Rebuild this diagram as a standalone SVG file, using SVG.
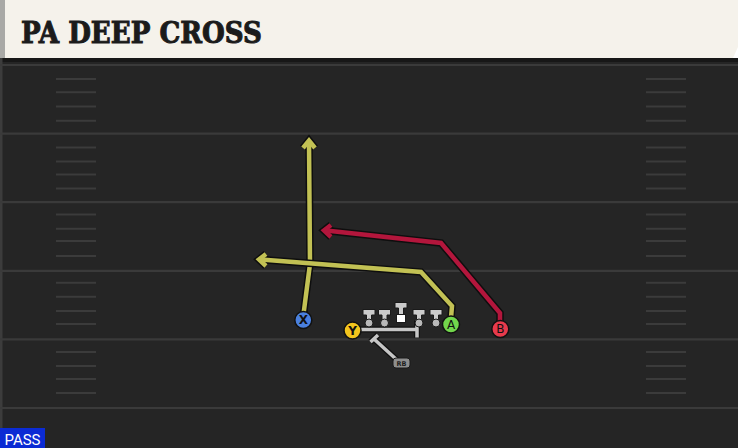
<svg xmlns="http://www.w3.org/2000/svg" width="738" height="448" viewBox="0 0 738 448">
<defs>
<style>
.field{fill:#252525}
.yl{stroke:#3a3a3a;stroke-width:2.2}
.hash{stroke:#3b3b3b;stroke-width:2}
.out{fill:none;stroke:#0e0e0e;stroke-width:7.5;stroke-linejoin:miter;stroke-linecap:butt}
.ry{fill:none;stroke:#c2c154;stroke-width:4.5;stroke-linejoin:miter;stroke-linecap:butt}
.rr{fill:none;stroke:#b3163c;stroke-width:4.5;stroke-linejoin:miter;stroke-linecap:butt}
.bout{fill:none;stroke:#111;stroke-width:6}
.blk{fill:none;stroke:#c6c6c6;stroke-width:3.5}
.pl{stroke:#111;stroke-width:1.5}
.lt{font-family:"DejaVu Sans","Liberation Sans",sans-serif;font-weight:bold;font-size:12px;fill:#111;text-anchor:middle}
.lm{fill:#cbcbcb;stroke:#1a1a1a;stroke-width:1}
.dot{fill:#b9b9b9;stroke:#1a1a1a;stroke-width:1}
</style>
</defs>
<!-- field -->
<rect class="field" x="0" y="58" width="738" height="390"/>
<rect x="0" y="58" width="738" height="4" fill="#171717"/>
<rect x="0" y="58" width="2.5" height="390" fill="#3c3c3c"/>
<g id="yardlines">
<line class="yl" x1="0" y1="65" x2="738" y2="65"/>
<line class="yl" x1="0" y1="133.6" x2="738" y2="133.6"/>
<line class="yl" x1="0" y1="202.2" x2="738" y2="202.2"/>
<line class="yl" x1="0" y1="270.8" x2="738" y2="270.8"/>
<line class="yl" x1="0" y1="339.4" x2="738" y2="339.4"/>
<line class="yl" x1="0" y1="408" x2="738" y2="408"/>
</g>
<g id="hashes">
<path class="hash" d="M56 79H96M56 92.3H96M56 106.5H96M56 120.7H96M56 147.6H96M56 161.6H96M56 174.5H96M56 188.6H96M56 214.5H96M56 228.7H96M56 241H96M56 256H96M56 282.8H96M56 296.8H96M56 311H96M56 324H96M56 352H96M56 366H96M56 379H96M56 393H96"/>
<path class="hash" d="M646 79H686M646 92.3H686M646 106.5H686M646 120.7H686M646 147.6H686M646 161.6H686M646 174.5H686M646 188.6H686M646 214.5H686M646 228.7H686M646 241H686M646 256H686M646 282.8H686M646 296.8H686M646 311H686M646 324H686M646 352H686M646 366H686M646 379H686M646 393H686"/>
</g>
<!-- banner -->
<g id="banner">
<polygon points="0,0 738,0 738,47 733,58 0,58" fill="#f5f2eb"/>
<rect x="0" y="0" width="5" height="58" fill="#a9a9a6"/>
<text x="21" y="43" font-family="'DejaVu Serif','Liberation Serif',serif" font-weight="bold" font-size="29" fill="#1b1b1b" stroke="#1b1b1b" stroke-width="1" textLength="241" lengthAdjust="spacingAndGlyphs">PA DEEP CROSS</text>
</g>
<!-- connectors -->
<g id="connectors">
<g id="route-x">
<polyline class="out" points="303,318 310,264 309,141"/>
<polyline class="out" points="303,148 309,140.5 315,148"/>
<polyline class="ry" points="303,318 310,264 309,141"/>
<polyline class="ry" points="303,148 309,140.5 315,148"/>
</g>
<g id="route-a">
<polyline class="out" points="451,318 452,306 421,272 261,259.5"/>
<polyline class="out" points="266,254 259,259.5 266,266"/>
<polyline class="ry" points="451,318 452,306 421,272 261,259.5"/>
<polyline class="ry" points="266,254 259,259.5 266,266"/>
</g>
<g id="route-b">
<polyline class="out" points="500,322 500,313 441,243 326,230.5"/>
<polyline class="out" points="331,225 324,230.5 331,237"/>
<polyline class="rr" points="500,322 500,313 441,243 326,230.5"/>
<polyline class="rr" points="331,225 324,230.5 331,237"/>
</g>
<g id="block-y">
<path class="bout" d="M358 329.5H417M417 320.5V337.5"/>
<path class="blk" d="M358 329.5H417M417 320.5V337.5"/>
</g>
<g id="block-rb">
<path class="bout" d="M397 360L374 339M370.5 342L378 335"/>
<path class="blk" d="M397 360L374 339M370.5 342L378 335"/>
</g>
</g>
<!-- linemen -->
<g id="LT">
<path class="lm" d="M363 309.5H375V315H371.5V321H366.5V315H363Z"/>
<circle class="dot" cx="369" cy="323" r="4"/>
</g>
<g id="LG">
<path class="lm" d="M378.5 309.5H390.5V315H387V321H382V315H378.5Z"/>
<circle class="dot" cx="384.5" cy="323" r="4"/>
</g>
<g id="C">
<path class="lm" d="M395 302.5H407V308H403.5V315H398.5V308H395Z"/>
<rect x="396.5" y="314.5" width="9" height="8" fill="#ffffff" stroke="#1a1a1a" stroke-width="1"/>
</g>
<g id="RG">
<path class="lm" d="M413 309.5H425V315H421.5V321H416.5V315H413Z"/>
<circle class="dot" cx="419" cy="323" r="4"/>
</g>
<g id="RT">
<path class="lm" d="M430 309.5H442V315H438.5V321H433.5V315H430Z"/>
<circle class="dot" cx="436" cy="323" r="4"/>
</g>
<!-- players -->
<g id="X">
<circle class="pl" cx="303.3" cy="320" r="8.5" fill="#4a80de"/>
<text class="lt" x="303.3" y="324.3">X</text>
</g>
<g id="Y">
<circle class="pl" cx="352.5" cy="330.5" r="8.5" fill="#f3c51d"/>
<text class="lt" x="352.5" y="334.8">Y</text>
</g>
<g id="A">
<circle class="pl" cx="451" cy="324.5" r="8.5" fill="#72d64c"/>
<text class="lt" x="451" y="328.8" style="font-weight:normal">A</text>
</g>
<g id="B">
<circle class="pl" cx="500.3" cy="329" r="8.5" fill="#e83a4c"/>
<text class="lt" x="500.3" y="333.3" style="font-weight:normal">B</text>
</g>
<g id="RB">
<rect x="393" y="358" width="17" height="10" rx="3" fill="#8e8e8e" stroke="#1a1a1a" stroke-width="1"/>
<text x="401.5" y="366" font-family="'DejaVu Sans','Liberation Sans',sans-serif" font-size="6.5" font-weight="bold" fill="#1e1e1e" text-anchor="middle">RB</text>
</g>
<!-- pass tag -->
<g id="pass">
<rect x="0" y="428" width="45" height="20" fill="#0b2bd4"/>
<text x="22.5" y="445" font-family="'Roboto','Liberation Sans',sans-serif" font-size="15" fill="#ffffff" text-anchor="middle">PASS</text>
</g>
</svg>
